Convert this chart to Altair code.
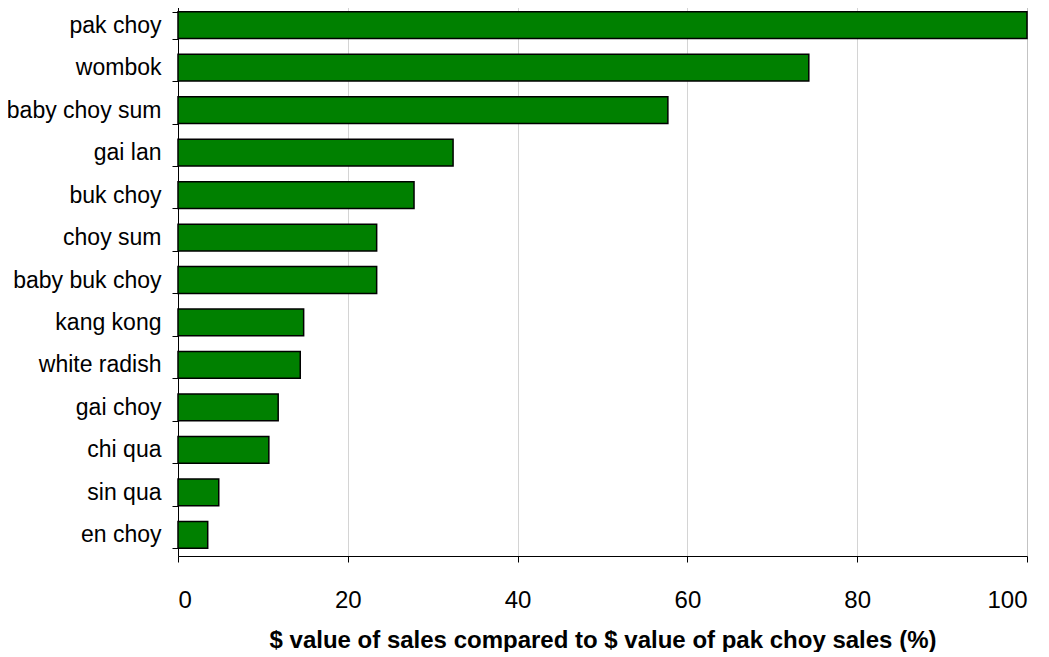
import altair as alt
import pandas as pd

categories = ["pak choy", "wombok", "baby choy sum", "gai lan", "buk choy", "choy sum",
              "baby buk choy", "kang kong", "white radish", "gai choy", "chi qua",
              "sin qua", "en choy"]
values = [100, 74.3, 57.7, 32.4, 27.8, 23.4, 23.4, 14.8, 14.4, 11.8, 10.7, 4.8, 3.5]
x_ticks = [0, 20, 40, 60, 80, 100]

df = pd.DataFrame({"veg": categories, "pct": values})

FONT = "Liberation Sans"

bars = alt.Chart(df).mark_bar(
    color="#008000", stroke="#000000", strokeWidth=1.5
).encode(
    y=alt.Y("veg:N", sort=categories,
            scale=alt.Scale(paddingInner=0.37, paddingOuter=0.185),
            axis=alt.Axis(title=None, tickBand="extent", tickSize=6, tickColor="#000",
                          domainColor="#000", labelFontSize=23, labelFont=FONT,
                          labelColor="#000", labelPadding=11, grid=False,
                          labelLimit=300)),
    x=alt.X("pct:Q", scale=alt.Scale(domain=[0, 100], nice=False),
            axis=alt.Axis(values=x_ticks,
                          title="$ value of sales compared to $ value of pak choy sales (%)",
                          titleFont=FONT, titleFontSize=24, titleFontWeight="bold",
                          titleColor="#000", titlePadding=16,
                          labelFont=FONT, labelFontSize=24, labelColor="#000",
                          labelPadding=26, tickSize=6, tickColor="#000",
                          domainColor="#000", grid=True, gridColor="#a8a8a8",
                          gridDash=[1, 1], gridWidth=1))
)

chart = bars.properties(
    width=849, height=552,
    padding={"left": -2, "top": -15, "right": 0, "bottom": 0}
).configure_view(stroke=None).configure(background="white")

chart.save("out.html", embed_options={"renderer": "svg", "actions": False})
